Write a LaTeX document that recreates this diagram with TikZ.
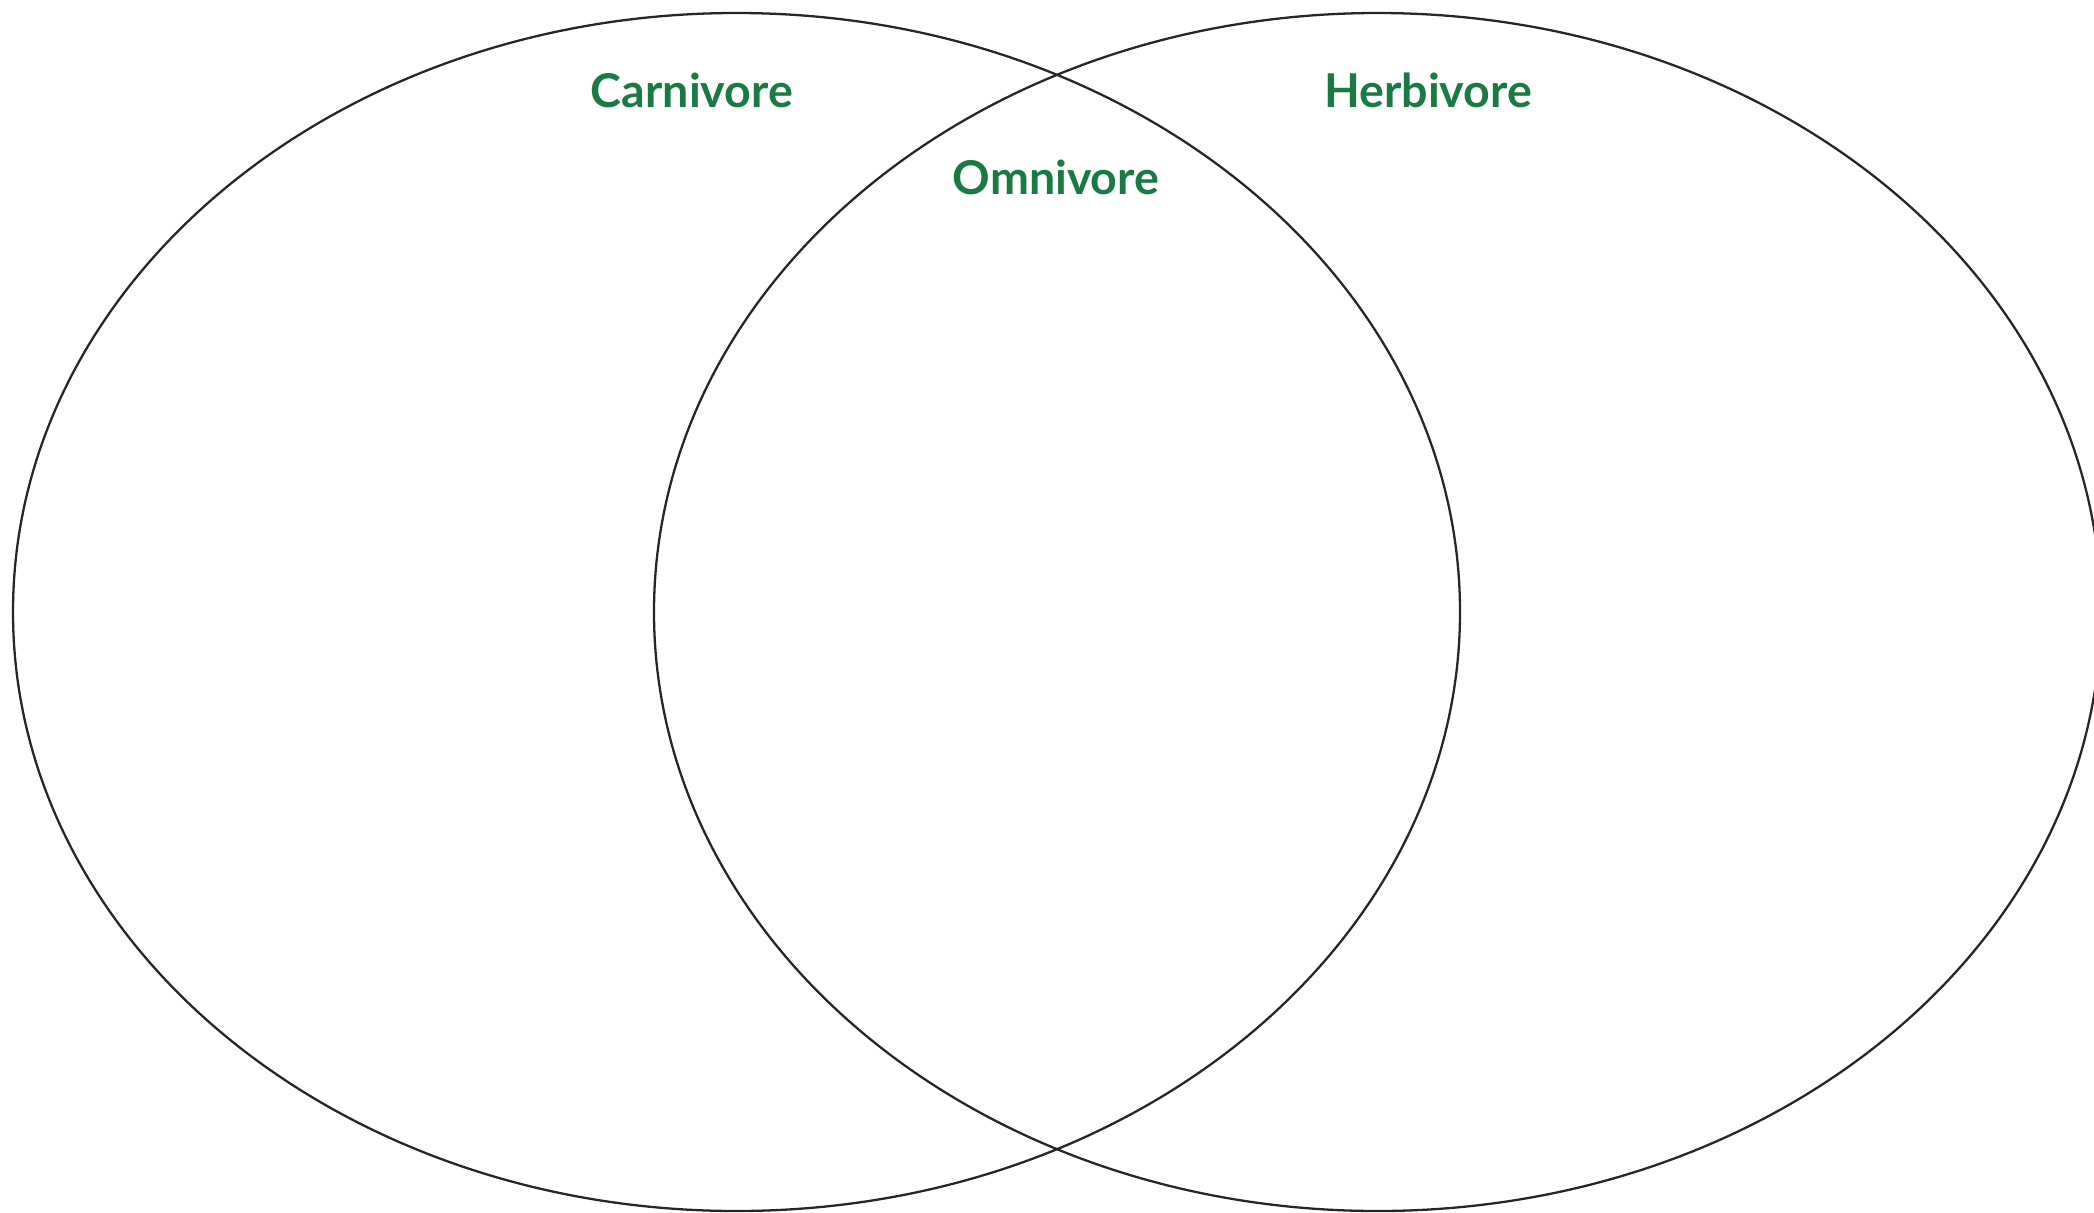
\documentclass[tikz,border=0pt]{standalone}
\usepackage{fontspec}
\setmainfont{Lato}
\usepackage{xcolor}
\usepackage{tikz}
\definecolor{leaf}{HTML}{1A7A43}
\definecolor{ink}{HTML}{262626}

\begin{document}
\begin{tikzpicture}[
    ring/.style={draw=ink, line width=1.3pt},
    setname/.style={text=leaf, font=\fontsize{26.5}{30}\selectfont\bfseries, anchor=base, inner sep=0pt}
  ]
    \useasboundingbox (0,0) rectangle (41.88,-24.24);
    \draw[ring] (14.73,-12.24) ellipse [x radius=14.47cm, y radius=11.98cm];
    \draw[ring] (27.55,-12.24) ellipse [x radius=14.47cm, y radius=11.98cm];
    \node[setname] (carn) at (13.84,-2.15) {Carnivore};
    \node[setname] (herb) at (28.56,-2.15) {Herbivore};
    \node[setname] (omni) at (21.12,-3.89) {Omnivore};
  \end{tikzpicture}
\end{document}
